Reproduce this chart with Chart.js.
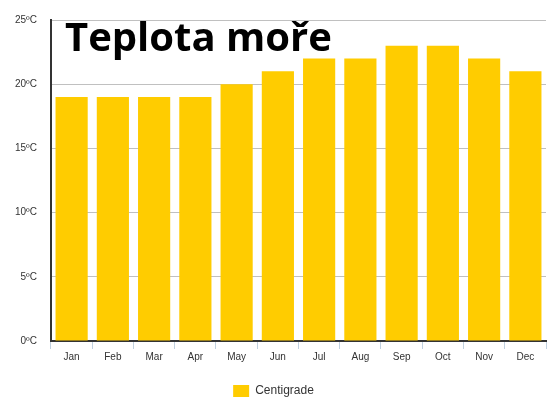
<!DOCTYPE html>
<html>
<head>
<meta charset="utf-8">
<script src="https://cdn.jsdelivr.net/npm/chart.js@4/dist/chart.umd.min.js"></script>
<style>
  html, body { margin: 0; padding: 0; background: #fff; }
  #wrap { position: relative; width: 560px; height: 414px; }
  #title {
    position: absolute; left: 65px; top: 8px;
    font: bold 40px "Open Sans", sans-serif; color: #000;
    pointer-events: none;
  }
</style>
</head>
<body>
<div id="wrap">
  <canvas id="seaChart" width="560" height="414"></canvas>
  <div id="title">Teplota moře</div>
</div>
<script>
const months = ["Jan", "Feb", "Mar", "Apr", "May", "Jun", "Jul", "Aug", "Sep", "Oct", "Nov", "Dec"];
const centigrade = [19, 19, 19, 19, 20, 21, 22, 22, 23, 23, 22, 21];
const yTicks = [0, 5, 10, 15, 20, 25];

document.addEventListener("DOMContentLoaded", function () {
  const ctx = document.getElementById("seaChart");
  new Chart(ctx.getContext("2d"), {
    type: "bar",
    data: {
      labels: months,
      datasets: [
        {
          label: "Centigrade",
          data: centigrade,
          backgroundColor: "#ffcc00",
          borderWidth: 0,
          barPercentage: 0.78,
          categoryPercentage: 1,
        },
      ],
    },
    options: {
      responsive: false,
      animation: false,
      layout: { padding: { left: 1, right: 14, top: 20, bottom: 7 } },
      plugins: {
        tooltip: { enabled: false },
        legend: {
          position: "bottom",
          labels: {
            boxWidth: 16,
            boxHeight: 12,
            color: "#333",
            padding: 20,
            font: { family: "Liberation Sans, Arial", size: 12 },
          },
        },
      },
      scales: {
        x: {
          grid: {
            drawOnChartArea: false,
            drawTicks: true,
            tickLength: 8,
            color: "#c0d0e0",
          },
          border: { color: "#333", width: 2 },
          ticks: {
            color: "#333",
            padding: 2,
            font: { family: "Liberation Sans, Arial", size: 10 },
          },
        },
        y: {
          min: 0,
          max: 25,
          afterBuildTicks: function (axis) {
            axis.ticks = yTicks.map(function (v) { return { value: v }; });
          },
          grid: { color: "#c0c0c0", drawTicks: false },
          border: { color: "#333", width: 2 },
          ticks: {
            color: "#333",
            padding: 14,
            font: { family: "Liberation Sans, Arial", size: 10 },
            callback: function (v) { return v + "ºC"; },
          },
        },
      },
    },
  });
});
</script>
</body>
</html>
